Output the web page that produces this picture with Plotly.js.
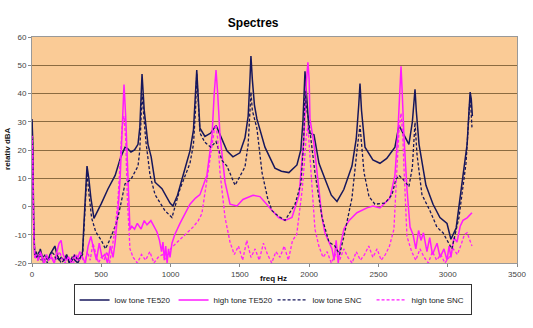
<!DOCTYPE html>
<html>
<head>
<meta charset="utf-8">
<script src="https://cdn.plot.ly/plotly-3.0.1.min.js"></script>
<style>html,body{margin:0;padding:0;background:#fff;}#chart{width:533px;height:328px;}</style>
</head>
<body>
<div id="chart"></div>
<script>
// Series names
const seriesNames = ["low tone TE520", "high tone TE520", "low tone SNC", "high tone SNC"];
const xTicks = [0, 500, 1000, 1500, 2000, 2500, 3000, 3500];
const yTicks = [-20, -10, 0, 10, 20, 30, 40, 50, 60];

// low tone TE520 (solid navy)
const lowTE_f = [0,5,12,20,30,45,60,70,85,100,115,130,150,165,180,195,210,230,250,270,290,310,330,350,365,375,385,397,410,425,447,470,500,548,600,637,671,690,714,740,765,778,794,810,837,860,888,938,996,1017,1050,1090,1140,1165,1180,1189,1198,1212,1248,1290,1328,1360,1407,1450,1500,1537,1560,1572,1580,1590,1605,1623,1681,1753,1800,1854,1912,1940,1955,1970,1985,2000,2035,2071,2120,2160,2201,2250,2309,2340,2358,2367,2378,2403,2460,2511,2560,2619,2648,2690,2720,2745,2756,2764,2773,2793,2843,2894,2944,2995,3023,3061,3104,3140,3155,3162,3170,3178];
const lowTE_v = [31,24,-5,-18,-16,-19,-15,-17,-20,-18,-19,-17,-15,-14,-17,-19,-18,-19,-17,-20,-18,-19,-20,-18,-16,-6,6,14.3,10,3,-4.2,-2,1,6.2,11,17,21,20.5,19.3,20,22,28,46.9,34,22,17.6,8.6,6.3,1.2,0.2,4,11,19.7,27,38,48.3,40,27.7,24.8,26,28.7,25,19.7,17.6,19,24.3,32,44,53.3,45,36,31,21,13.6,12.5,12,14.7,20,30,47.9,36,26,25.4,15.3,9,4,1.8,6,14.3,24,36,43.5,34,21,16.5,15.3,17,21,28.7,25,22,30,38,41.5,34,22,7.5,0.8,-3.9,-6,-11.6,-7.6,8.6,22,35,40.5,38,32];

// high tone TE520 (solid magenta)
const highTE_f = [0,5,12,20,30,45,60,75,90,105,120,140,160,180,195,210,225,245,265,285,305,325,345,365,385,405,425,445,465,485,505,525,545,565,585,600,620,637,650,664,676,688,707,720,740,760,787,810,830,858,880,902,920,935,945,955,965,975,985,996,1010,1030,1068,1100,1140,1180,1212,1262,1299,1315,1328,1340,1357,1393,1429,1479,1522,1595,1645,1717,1780,1826,1876,1927,1963,1980,1991,2000,2006,2035,2057,2093,2114,2140,2165,2180,2195,2210,2225,2251,2287,2345,2417,2461,2511,2583,2619,2640,2655,2663,2672,2684,2706,2728,2750,2770,2790,2807,2825,2850,2870,2890,2923,2945,2973,2995,3010,3023,3045,3067,3090,3110,3140,3175];
const highTE_v = [25,18,-8,-18,-17,-19,-16,-18,-20,-17,-19,-18,-20,-16,-13,-12,-17,-19,-18,-20,-17,-19,-16,-18,-20,-14,-10.6,-15,-19,-13,-18,-17,-20,-14,-18,-12.6,-2,11,30,43.2,32,14,-8.2,-7,-8,-6,-8,-5,-6.5,-5,-7,-9,-12,-16,-12.6,-19,-14,-20,-15,-18,-13,-10,-6,-3,0.8,3,4.2,11,25,40,48.3,40,25,8.6,0.8,0.2,2.5,4,3.5,-0.5,-3.9,-4.9,-3.9,4,25,44,51,45,31,22,12,-3.9,-9.3,-12,-15,-19,-12,-20,-14,-8,-5,-2.2,-0.5,0.2,-0.5,3,11,26,44,49.6,40,25,6.2,-7.3,-10,-15,-8.5,-12,-9.3,-16,-11,-17,-13,-18,-15,-19,-14,-18,-11,-12.6,-7,-4.9,-4,-2.2];

// low tone SNC (dashed navy)
const lowSNC_f = [0,5,12,20,35,50,65,80,95,110,125,140,160,175,190,210,230,250,270,290,310,330,350,365,375,385,397,410,430,460,500,530,563,600,620,650,671,714,765,778,794,810,822,852,888,960,1010,1068,1140,1165,1180,1189,1198,1212,1248,1290,1328,1371,1407,1465,1537,1560,1572,1580,1590,1623,1660,1700,1732,1780,1826,1898,1940,1960,1970,1980,1995,2042,2093,2143,2186,2220,2251,2309,2345,2367,2396,2432,2475,2547,2598,2626,2648,2684,2720,2745,2764,2778,2814,2872,2922,2966,3030,3081,3132,3150,3162,3175];
const lowSNC_v = [30,22,-6,-17,-18,-16,-19,-18,-17,-20,-18,-16,-17,-19,-18,-20,-19,-18,-20,-19,-17,-19,-18,-17,-8,4,12,5,-4,-9,-12,-15,-11.6,-7,-3.9,3,8,9.6,14.3,20,40,30,23,11,4.2,-1.5,-3.9,6.2,15.3,22,34,47,38,26,22.7,21,23,16.3,14.3,7.5,14,22,33,40.5,34,27.7,12,3,-1.5,-3.5,-4.9,0.8,8,22,41,35,31,12,-3.9,-12.6,-14,-17,-10.6,3,19.7,28.7,12,3.5,0.8,1.2,4.2,9.6,11,9.3,7,14,29.8,18.6,4.2,-1.5,-7.3,-9.3,-15,-3.9,15.3,30,39.5,28];

// high tone SNC (dashed magenta)
const highSNC_f = [0,5,12,20,40,60,80,100,120,140,160,180,200,220,240,260,280,300,320,340,360,380,400,420,440,460,480,500,520,540,560,580,600,620,640,650,664,676,688,707,730,760,790,820,850,880,910,940,970,1000,1040,1090,1130,1162,1200,1226,1270,1300,1315,1328,1340,1357,1393,1429,1460,1490,1520,1550,1580,1610,1640,1670,1700,1730,1760,1790,1820,1850,1880,1910,1927,1950,1963,1978,1991,2005,2020,2042,2070,2100,2130,2160,2190,2220,2250,2280,2310,2340,2370,2400,2430,2460,2490,2520,2550,2580,2612,2634,2650,2663,2675,2684,2706,2740,2770,2800,2830,2860,2890,2920,2950,2980,3010,3040,3070,3100,3120,3140,3160,3175];
const highSNC_v = [25,18,-6,-18,-19,-17,-20,-18,-19,-17,-20,-18,-16,-19,-20,-18,-19,-20,-17,-19,-18,-20,-16,-19,-13,-17,-20,-18,-19,-16,-20,-14,-8,2,18,28,32,24,3,-15,-18,-20,-17,-19,-16,-20,-18,-17,-19,-15,-13,-10.6,-9,-7.3,-5,-2.5,12,22,27,29,24,12,-3.9,-12.6,-17,-14,-19,-12,-18,-15,-19,-13,-17,-20,-16,-18,-14,-19,-12,-10,-3.9,6,14,24,28.7,20,7.5,-8,-14,-18,-16,-20,-17,-19,-15,-18,-20,-16,-19,-17,-14,-18,-15,-19,-17,-14,-8,14,28,33,26,14,-10.6,-16,-19,-15,-18,-20,-16,-19,-17,-20,-18,-15,-17,-13,-10,-9.3,-12,-14];

const navy = "#17175c";
const magenta = "#ff1aff";

const traces = [
  {x: lowTE_f, y: lowTE_v, name: seriesNames[0], mode: "lines", line: {color: navy, width: 1.5}},
  {x: highTE_f, y: highTE_v, name: seriesNames[1], mode: "lines", line: {color: magenta, width: 1.5}},
  {x: lowSNC_f, y: lowSNC_v, name: seriesNames[2], mode: "lines", line: {color: navy, width: 1.3, dash: "3px,2px"}},
  {x: highSNC_f, y: highSNC_v, name: seriesNames[3], mode: "lines", line: {color: magenta, width: 1.3, dash: "3px,2px"}}
];

const layout = {
  width: 533, height: 328,
  margin: {l: 32, r: 16, t: 37, b: 53},
  paper_bgcolor: "#ffffff",
  plot_bgcolor: "#facb96",
  font: {family: "Arial, Liberation Sans, sans-serif", size: 8, color: "#333"},
  title: {text: "<b>Spectres</b>", x: 0.475, xref: "container", y: 0.93, yanchor: "middle", font: {size: 12, color: "#000", family: "Arial, Liberation Sans, sans-serif"}},
  showlegend: true,
  legend: {orientation: "h", x: 0.496, xanchor: "center", y: -0.095, yanchor: "top",
    bordercolor: "#333", borderwidth: 1, bgcolor: "#fff", font: {size: 8, color: "#222"},
    itemwidth: 30, tracegroupgap: 0, entrywidth: 54, entrywidthmode: "pixels"},
  xaxis: {range: [0, 3500], tickvals: xTicks, ticktext: xTicks.map(String), showgrid: false, zeroline: false,
    ticks: "outside", ticklen: 3, tickcolor: "#888", showline: true, linecolor: "#999", mirror: true,
    tickfont: {size: 8, color: "#444"}},
  yaxis: {range: [-20, 60], tickvals: yTicks, ticktext: yTicks.map(String), showgrid: true, gridcolor: "#8b6b40", gridwidth: 1,
    zeroline: false, ticks: "outside", ticklen: 3, tickcolor: "#888", showline: true, linecolor: "#999", mirror: true,
    tickfont: {size: 8, color: "#444"}},
  annotations: [
    {text: "<b>freq Hz</b>", xref: "paper", yref: "paper", x: (273 - 32) / 485, y: -0.04, yanchor: "top", xanchor: "center", showarrow: false, font: {size: 8, color: "#111"}},
    {text: "<b>relativ dBA</b>", xref: "paper", yref: "paper", x: -0.052, y: 0.504, xanchor: "center", yanchor: "middle", textangle: -90, showarrow: false, font: {size: 8, color: "#111"}}
  ]
};

Plotly.newPlot("chart", traces, layout, {displayModeBar: false, staticPlot: true});
</script>
</body>
</html>
